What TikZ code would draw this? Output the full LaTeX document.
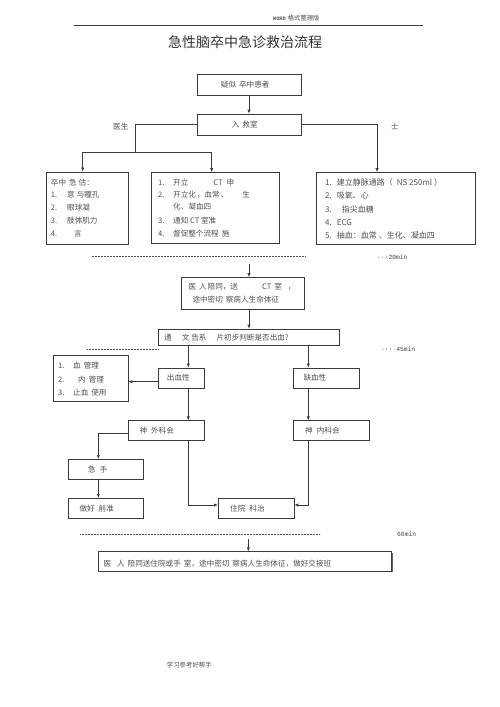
\documentclass[tikz,border=0pt]{standalone}
\usepackage{fontspec}
\setmainfont{Noto Sans CJK SC}
\newfontfamily\monof{Liberation Mono}
\usetikzlibrary{arrows.meta,shadows}
\definecolor{txt}{HTML}{505050}
\definecolor{lnc}{HTML}{3A3A3A}
\newcommand\mkbox[5]{\node[box, minimum width={(#4-#2)*1pt}, minimum height={(#5-#3)*1pt}] (#1) at ({(#2+#4)/2},{(#3+#5)/2}) {};}
\begin{document}
\begin{tikzpicture}[x=1pt,y=-1pt,
  box/.style={draw=lnc, line width=0.6pt, fill=white, inner sep=0pt,
    drop shadow={shadow xshift=0.8pt, shadow yshift=-0.8pt, fill=lnc, opacity=0.8}},
  tx/.style={text=txt, font=\fontsize{7.6}{9}\selectfont, inner sep=0pt, anchor=west},
  txr/.style={tx, font=\fontsize{8}{9}\selectfont},
  mono/.style={text=black!75, font=\monof\fontsize{6.3}{7}\selectfont, inner sep=0pt, anchor=west},
  arr/.style={draw=lnc, line width=0.65pt, -{Latex[length=4pt,width=3.2pt]}},
  conn/.style={draw=lnc, line width=0.65pt},
  dots/.style={draw=txt, line width=0.5pt, dash pattern=on 0.6pt off 0.9pt}]
\useasboundingbox[fill=white] (0,0) rectangle (500,707);
% header
\draw[lnc, line width=0.7pt] (74,25) -- (423,25);
\node[inner sep=0pt, anchor=west, text=txt] (hdr) at (273,18) {{\monof\bfseries\fontsize{5.2}{6}\selectfont WORD} {\fontsize{6.3}{7}\selectfont 格式整理版}};
\node[inner sep=0pt, anchor=west, text=black!80, font=\fontsize{14}{16}\selectfont] (title) at (168,42) {急性脑卒中急诊救治流程};
% boxes
\mkbox{b1}{197}{74}{301}{95}
\mkbox{b2}{197}{114}{301}{135}
\mkbox{bL}{46}{172}{128}{244}
\mkbox{bM}{151}{172.5}{279}{243}
\mkbox{bR}{316}{172.5}{475}{244}
\mkbox{b3}{181}{277.5}{304}{309.5}
\mkbox{b4}{158}{329}{339}{345}
\mkbox{bList}{53}{355}{128}{401}
\mkbox{b5}{158}{368}{204}{388}
\mkbox{b6}{293}{368}{359}{388}
\mkbox{b7}{128}{420.7}{204}{440}
\mkbox{b8}{293}{420.7}{369}{440}
\mkbox{b9}{68.3}{459.3}{143.3}{479.3}
\mkbox{b10}{68.3}{498.3}{143.3}{518.3}
\mkbox{b11}{218.3}{498.3}{294}{518.3}
\mkbox{b12}{98.3}{551.7}{391.7}{571}
% texts
\node[tx] (t1) at (220.7,84.5) {疑似\hspace{3pt}卒中患者};
\node[tx] (t2) at (231.7,124.5) {入\hspace{3pt}救室};
\node[tx] (doc) at (113,126) {医生};
\node[tx] (nur) at (391,126) {士};
\node[tx] (l1) at (50.7,182.7) {卒中\hspace{3pt}急\hspace{2pt}估：};
\node[tx] (l2) at (50.7,194.7) {\makebox[16.3pt][l]{1.}意\hspace{2pt}与瞳孔};
\node[tx] (l3) at (50.7,207.7) {\makebox[16.3pt][l]{2.}眼球凝};
\node[tx] (l4) at (50.7,220.7) {\makebox[16.3pt][l]{3.}肢体肌力};
\node[tx] (l5) at (50.7,233.3) {\makebox[16.3pt][l]{4.}\hspace{7pt}言};
\node[tx] (m1) at (158,182.7) {\makebox[15pt][l]{1.}开立\hspace{25pt}CT\hspace{4pt}申};
\node[tx] (m2) at (158,194.7) {\makebox[15pt][l]{2.}开立化\hspace{1pt}，血常\hspace{1pt}、\hspace{14pt}生};
\node[tx] (m3) at (173,206.7) {化、凝血四};
\node[tx] (m4) at (158,221) {\makebox[15pt][l]{3.}通知 CT 室准};
\node[tx] (m5) at (158,233.3) {\makebox[15pt][l]{4.}督促整个流程\hspace{3pt}施};
\node[txr] (r1) at (325,182.7) {\makebox[11.7pt][l]{1.}建立静脉通路（\hspace{4pt}NS 250ml ）};
\node[txr] (r2) at (325,195.3) {\makebox[11.7pt][l]{2.}吸氧、心};
\node[txr] (r3) at (325,209.3) {\makebox[11.7pt][l]{3.}\hspace{5pt}指尖血糖};
\node[txr] (r4) at (325,222.7) {\makebox[11.7pt][l]{4.}ECG};
\node[txr] (r5) at (325,235.7) {\makebox[11.7pt][l]{5.}抽血：血常\hspace{2pt}、生化、凝血四};
\draw[dots] (91.7,256.7) -- (305,256.7);
\node[mono] (m20) at (377,257) {···20min};
\node[tx] (c1) at (188.3,287) {医\hspace{3pt}人\hspace{1pt}陪同，送\hspace{24pt}CT\hspace{3pt}室\hspace{6pt}，};
\node[tx] (c2) at (192.3,300) {途中密切\hspace{3pt}察病人生命体征};
\node[tx] (d1) at (164,337.5) {通\hspace{10pt}文\hspace{2pt}告系\hspace{10pt}片初步判断是否出血?};
\draw[dots] (87,349.3) -- (158,349.3);
\node[mono] (m45) at (381,349) {··· 45min};
\node[tx] (p1) at (58,365.7) {\makebox[15pt][l]{1.}血\hspace{3pt}管理};
\node[tx] (p2) at (58,379.3) {\makebox[15pt][l]{2.}\hspace{5pt}内\hspace{3pt}管理};
\node[tx] (p3) at (58,392.7) {\makebox[15pt][l]{3.}止血\hspace{3pt}使用};
\node[tx] (h1) at (166.7,378) {出血性};
\node[tx] (h2) at (303.3,378) {缺血性};
\node[tx] (n1) at (139.3,430.3) {神\hspace{4pt}外科会};
\node[tx] (n2) at (305,430.3) {神\hspace{4pt}内科会};
\node[tx] (s1) at (88,469.3) {急\hspace{4pt}手};
\node[tx] (s2) at (79.3,508.3) {做好\hspace{4pt}前准};
\node[tx] (s3) at (230,508.3) {住院\hspace{4pt}科治};
\draw[dots] (80,534) -- (320,534);
\node[mono] (m60) at (397,534) {60min};
\node[tx] (f1) at (103.3,563.3) {医\hspace{6pt}人\hspace{3pt}陪同送住院或手\hspace{3pt}室，途中密切\hspace{3pt}察病人生命体征，做好交接班};
\node[inner sep=0pt, anchor=west, text=txt, font=\fontsize{6.4}{7}\selectfont] (foot) at (166.7,665) {学习参考好帮手};
% connectors
\coordinate (jL) at (135.7,152);
\draw[arr] (b1) -- (b2);
\draw[conn] (b2.west) -| (jL);
\draw[arr] (jL) -| ([xshift=-4.3pt]bL.north);
\draw[arr] (jL) -| ([xshift=-3.3pt]bM.north);
\draw[arr] (b2.east) -| ([xshift=-18.5pt]bR.north);
\coordinate (a1) at (249,264);
\draw[arr] (a1) -- (b3.north -| a1);
\coordinate (sxC) at (249,0);
\draw[arr] (b3.south -| sxC) -- (b4.north -| sxC);
\coordinate (sxL) at (188.3,0);
\coordinate (sxR) at (308.3,0);
\draw[arr] (b4.south -| sxL) -- (b5.north -| sxL);
\draw[arr] (b4.south -| sxR) -- (b6.north -| sxR);
\draw[arr] (b5.south -| sxL) -- (b7.north -| sxL);
\draw[arr] (b6.south -| sxR) -- (b8.north -| sxR);
\coordinate (ay) at (0,381.7);
\draw[arr] (b5.west |- ay) -- (bList.east |- ay);
\coordinate (sxS) at (98.3,0);
\coordinate (by) at (0,433.3);
\draw[arr] (b7.west |- by) -| (b9.north -| sxS);
\draw[arr] (b9.south -| sxS) -- (b10.north -| sxS);
\coordinate (hy) at (0,505);
\draw[arr] (b7.south -| sxL) |- (b11.west |- hy);
\draw[arr] (b8.south -| sxR) |- (b11.east |- hy);
\coordinate (a2) at (248.3,539);
\draw[arr] (a2) -- (b12.north -| a2);
\end{tikzpicture}
\end{document}
